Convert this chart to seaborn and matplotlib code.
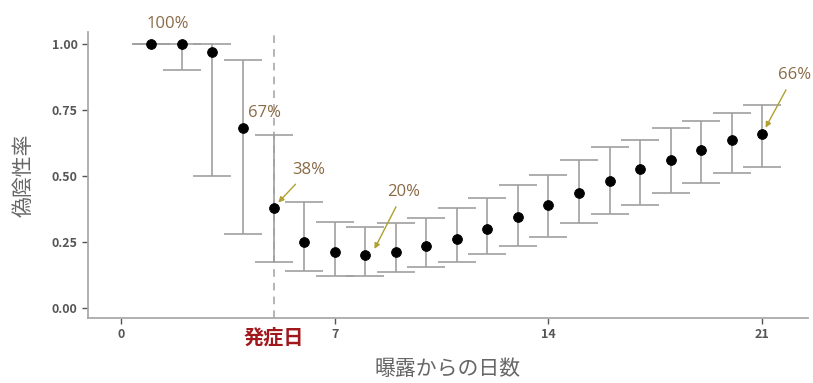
import numpy as np
import pandas as pd
import matplotlib
matplotlib.use('Agg')
import matplotlib.pyplot as plt
import seaborn as sns

# 曝露からの日数ごとの偽陰性率と95%信頼区間
days = list(range(1, 22))
fnr = [1.00, 1.00, 0.97, 0.68, 0.38, 0.25, 0.21, 0.20, 0.21, 0.235, 0.26,
       0.30, 0.345, 0.39, 0.435, 0.48, 0.525, 0.56, 0.60, 0.635, 0.66]
lower = [1.00, 0.90, 0.50, 0.28, 0.175, 0.14, 0.12, 0.12, 0.135, 0.155, 0.175,
         0.205, 0.235, 0.27, 0.32, 0.355, 0.39, 0.435, 0.475, 0.51, 0.535]
upper = [1.00, 1.00, 1.00, 0.94, 0.655, 0.40, 0.325, 0.305, 0.32, 0.34, 0.38,
         0.415, 0.465, 0.505, 0.56, 0.61, 0.635, 0.68, 0.71, 0.74, 0.77]
xticks = [0, 7, 14, 21]
onset_day = 5
labels = {1: '100%', 4: '67%', 5: '38%', 8: '20%', 21: '66%'}

df = pd.DataFrame({'day': days, 'fnr': fnr, 'lo': lower, 'hi': upper})

sns.set_style('white')
plt.rcParams['font.family'] = ['Noto Sans CJK JP', 'DejaVu Sans']

fig = plt.figure(figsize=(8.13, 3.83), dpi=100)
ax = fig.add_axes([0.108, 0.170, 0.886, 0.746])

grey = '#a0a0a0'
ax.errorbar(df['day'], df['fnr'],
            yerr=[df['fnr'] - df['lo'], df['hi'] - df['fnr']],
            fmt='none', ecolor=grey, elinewidth=1.2, capsize=14, capthick=1.2, zorder=1)
sns.scatterplot(data=df, x='day', y='fnr', color='black', s=50, edgecolor='black',
                zorder=3, ax=ax, legend=False)

# 発症日の破線
ax.axvline(onset_day, color=grey, ls=(0, (5, 4)), lw=1.1, zorder=0)

ax.set_xlim(-1.08, 22.5)
ax.set_ylim(-0.038, 1.045)
ax.set_xticks(xticks)
ax.set_yticks([0, 0.25, 0.5, 0.75, 1.0])
ax.set_yticklabels(['0.00', '0.25', '0.50', '0.75', '1.00'])
ax.tick_params(axis='both', labelsize=9, colors='#555555', length=4, width=1,
               direction='out', bottom=True, left=True)
for lab in ax.get_xticklabels() + ax.get_yticklabels():
    lab.set_fontweight('bold')
for s in ['top', 'right']:
    ax.spines[s].set_visible(False)
for s in ['left', 'bottom']:
    ax.spines[s].set_color('#aaaaaa')
    ax.spines[s].set_linewidth(1.3)

ax.set_xlabel('曝露からの日数', fontsize=15, color='#666666', labelpad=12)
ax.set_ylabel('偽陰性率', fontsize=15, color='#666666', labelpad=12)

ax.text(onset_day, -0.07, '発症日', color='#a0181c', fontsize=14.5, fontweight='bold',
        ha='center', va='top')

tcol = '#8a6a45'
acol = '#b0a030'
pfont = ['Open Sans', 'DejaVu Sans']
arrow = dict(arrowstyle='-|>', color=acol, lw=1, mutation_scale=8, shrinkA=3, shrinkB=5)
d = df.set_index('day')['fnr']
ax.text(1.53, 1.076, labels[1], color=tcol, fontsize=12, ha='center', va='center', family=pfont)
ax.text(4.7, 0.739, labels[4], color=tcol, fontsize=12, ha='center', va='center', family=pfont)
ax.annotate(labels[5], xy=(5, d[5]), xytext=(6.16, 0.523), color=tcol, fontsize=12,
            ha='center', va='center', arrowprops=arrow, family=pfont)
ax.annotate(labels[8], xy=(8.2, d[8]), xytext=(9.26, 0.44), color=tcol, fontsize=12,
            ha='center', va='center', arrowprops=arrow, family=pfont)
ax.annotate(labels[21], xy=(21, d[21]), xytext=(22.04, 0.883), color=tcol, fontsize=12,
            ha='center', va='center', arrowprops=arrow, family=pfont)

fig.savefig('out.png', dpi=100)
